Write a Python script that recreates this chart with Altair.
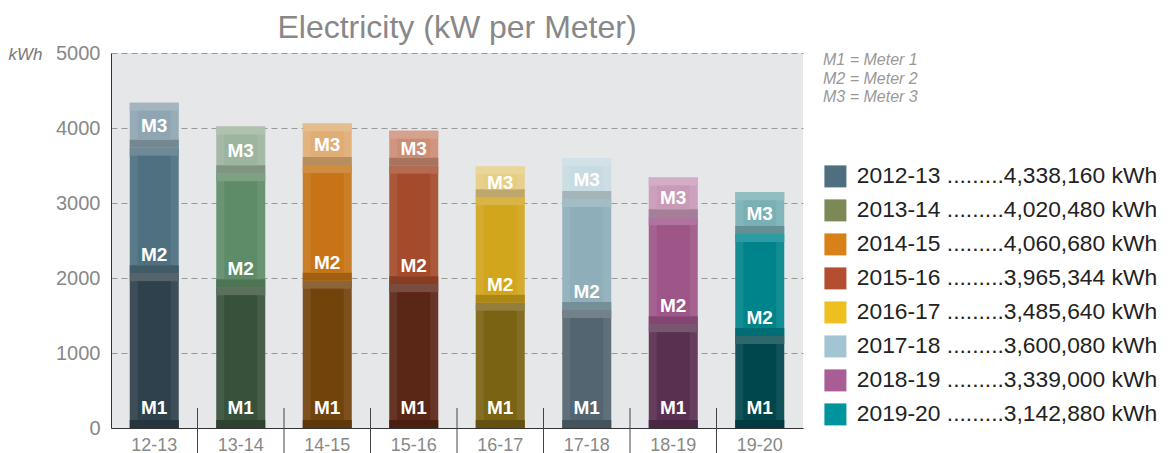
import altair as alt
import pandas as pd

# ---- data ----
years = ["12-13", "13-14", "14-15", "15-16", "16-17", "17-18", "18-19", "19-20"]
meter1 = [2062, 1876, 1964, 1916, 1671, 1573, 1382, 1227]
meter2 = [1675, 1520, 1543, 1582, 1405, 1480, 1427, 1360]
meter3 = [601, 624, 554, 467, 410, 547, 530, 556]
meter_names = ["M1", "M2", "M3"]

legend_years = ["2012-13", "2013-14", "2014-15", "2015-16", "2016-17", "2017-18", "2018-19", "2019-20"]
legend_totals = ["4,338,160", "4,020,480", "4,060,680", "3,965,344", "3,485,640", "3,600,080", "3,339,000", "3,142,880"]
notes = ["M1 = Meter 1", "M2 = Meter 2", "M3 = Meter 3"]

# ---- styles ----
legend_colors = ["#4d6f80", "#7b8a55", "#d98119", "#b34f30", "#eebf20", "#a3c5d3", "#a85d94", "#00949d"]
face_colors = [  # (M1, M2, M3)
    ("#2e414c", "#4e7080", "#8fa6b2"),
    ("#38513b", "#5f8c68", "#9db59f"),
    ("#73430c", "#c67417", "#e0ad74"),
    ("#5a2616", "#a54a2b", "#cc8d75"),
    ("#7a6313", "#d1a51c", "#e5cd82"),
    ("#536570", "#8eaeb9", "#c8dbe2"),
    ("#5a3050", "#9e5588", "#c99ab8"),
    ("#00464d", "#00848c", "#7ab0b5"),
]


def mix(hex_color, other, t):
    a = [int(hex_color[i:i + 2], 16) for i in (1, 3, 5)]
    b = [int(other[i:i + 2], 16) for i in (1, 3, 5)]
    c = [round(x + (y - x) * t) for x, y in zip(a, b)]
    return "#%02x%02x%02x" % tuple(c)


rows = []
for i, yr in enumerate(years):
    start = 0
    for j, val in enumerate((meter1[i], meter2[i], meter3[i])):
        face = face_colors[i][j]
        rows.append({
            "year": yr, "meter": meter_names[j], "start": start, "end": start + val,
            "mid": start + val / 2,
            "face": face, "side": mix(face, "#ffffff", 0.07),
            "topc": mix(face, "#ffffff", 0.18), "botc": mix(face, "#000000", 0.18),
        })
        start += val
seg = pd.DataFrame(rows)

leg = pd.DataFrame({
    "label": [f"{y} .........{t} kWh" for y, t in zip(legend_years, legend_totals)],
})
seps = pd.DataFrame({"year": years[1:]})

W, H = 692, 375
FONT = "Liberation Sans"
BAR_W = 49
BEV = 8

x_enc = alt.X("year:N", sort=years, scale=alt.Scale(paddingInner=0, paddingOuter=0),
              axis=alt.Axis(title=None, labelAngle=0, labelColor="#888888", labelFontSize=18,
                            labelFont=FONT, ticks=False, domainColor="#333333", labelPadding=8,
                            grid=False))
y_scale = alt.Scale(domain=[0, 5000], nice=False)
y_enc = alt.Y("end:Q", scale=y_scale,
              axis=alt.Axis(title="kWh", titleAngle=0, titleX=-103, titleY=1, titleAlign="left",
                            titleBaseline="middle", titleFontStyle="italic", titleFontWeight="normal",
                            titleColor="#777777", titleFontSize=17, titleFont=FONT,
                            values=list(range(0, 5001, 500)), format="d", labelOverlap=False,
                            labelColor="#888888", labelFontSize=20,
                            labelFont=FONT, ticks=False, labelPadding=11, domainColor="#333333",
                            gridColor="#999999", gridDash=[6, 4], gridWidth=1))

base = alt.Chart(seg)
xs = alt.X("year:N", sort=years)

outer = base.mark_bar(size=BAR_W).encode(
    x=x_enc, y=y_enc, y2="start:Q", fill=alt.Fill("side:N", scale=None))
top_strip = base.mark_bar(size=BAR_W, y2Offset=BEV).encode(
    x=xs, y=alt.Y("end:Q"), y2="end:Q", fill=alt.Fill("topc:N", scale=None))
bot_strip = base.mark_bar(size=BAR_W, yOffset=-BEV).encode(
    x=xs, y=alt.Y("start:Q"), y2="start:Q", fill=alt.Fill("botc:N", scale=None))
inner = base.mark_bar(size=BAR_W - 2 * BEV, yOffset=BEV, y2Offset=-BEV).encode(
    x=xs, y=alt.Y("end:Q"), y2="start:Q", fill=alt.Fill("face:N", scale=None))

txt = dict(color="white", fontSize=19, fontWeight="bold", font=FONT, baseline="middle", align="center")
lab1 = base.transform_filter(alt.datum.meter == "M1").mark_text(dy=-20, **txt).encode(
    x=xs, y=alt.Y("start:Q"), text="meter:N")
lab2 = base.transform_filter(alt.datum.meter == "M2").mark_text(dy=-18, **txt).encode(
    x=xs, y=alt.Y("start:Q"), text="meter:N")
lab3 = base.transform_filter(alt.datum.meter == "M3").mark_text(dy=1, **txt).encode(
    x=xs, y=alt.Y("mid:Q"), text="meter:N")

sep = alt.Chart(seps).mark_rule(color="#444444", strokeWidth=1, clip=False).encode(
    x=alt.X("year:N", sort=years, bandPosition=0), y=alt.value(H - 20), y2=alt.value(H + 26))

note = alt.Chart(pd.DataFrame({"n": [0]})).mark_text(
    align="left", baseline="middle", fontSize=16, fontStyle="italic", font=FONT, color="#999999",
    lineBreak="\n", lineHeight=18.5).encode(
    x=alt.value(712), y=alt.value(7), text=alt.value("\n".join(notes)))

legend_layer = alt.Chart(leg).mark_square(opacity=0).encode(
    x=alt.value(0), y=alt.value(0),
    color=alt.Color("label:N", sort=None,
                    scale=alt.Scale(domain=list(leg["label"]), range=legend_colors),
                    legend=alt.Legend(title=None, orient="none", legendX=713, legendY=112,
                                      symbolType="square", symbolSize=484, symbolOpacity=1,
                                      symbolStrokeWidth=0, labelFontSize=22.8, labelFont=FONT,
                                      labelColor="#222222", labelLimit=500, labelOffset=10,
                                      rowPadding=10)))

chart = alt.layer(outer, top_strip, bot_strip, inner, lab1, lab2, lab3, sep, note, legend_layer).properties(
    width=W, height=H,
    title=alt.TitleParams("Electricity (kW per Meter)", fontSize=32, color="#888888", font=FONT,
                          fontWeight="normal", anchor="middle", offset=-2),
    autosize=alt.AutoSizeParams(type="none"),
    padding={"left": 103, "top": 45, "right": 364, "bottom": 30},
).configure_view(fill="#e6e7e9", stroke=None)

chart.save("out.html", embed_options={"renderer": "svg", "actions": False})
